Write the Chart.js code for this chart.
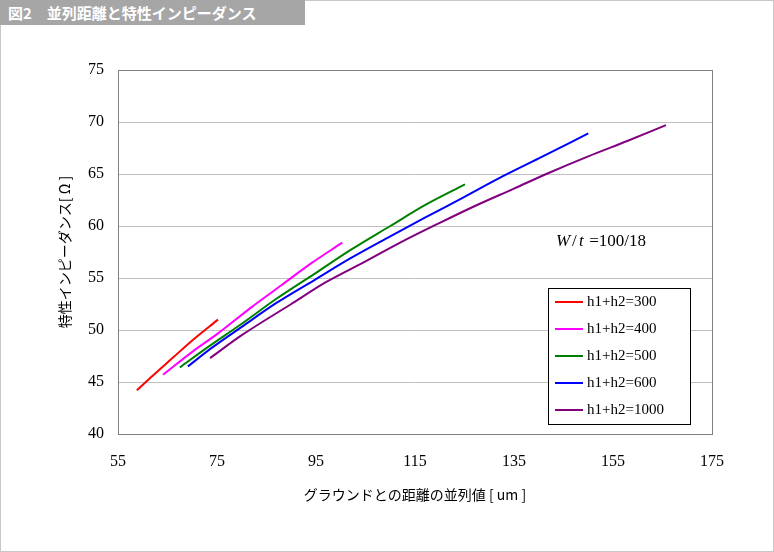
<!DOCTYPE html>
<html><head><meta charset="utf-8">
<script src="https://cdn.jsdelivr.net/npm/chart.js@4"></script>
<style>
body{margin:0;background:#fff;}
#frame{position:absolute;left:0;top:0;width:772px;height:550px;border:1px solid #c8c8c8;}
#title{position:absolute;left:0;top:0;width:305px;height:25px;background:#a6a6a6;color:#fff;font:bold 15px "Noto Sans CJK JP",sans-serif;line-height:25px;padding-left:8px;box-sizing:border-box;}
#wrap{position:absolute;left:0;top:0;width:774px;height:552px;}
</style></head><body>
<div id="frame"></div>
<div id="wrap"><canvas id="c"></canvas></div>
<div id="title">図2　並列距離と特性インピーダンス</div>
<script>
const xTicks = [55, 75, 95, 115, 135, 155, 175];
const seriesLabels = ["h1+h2=300", "h1+h2=400", "h1+h2=500", "h1+h2=600", "h1+h2=1000"];
const seriesColors = ["#ff0000", "#ff00ff", "#008000", "#0000ff", "#800080"];
const red = [[58.8, 44.2], [62, 45.6], [66, 47.3], [70, 49.0], [75.2, 51.0]];
const magenta = [[64.1, 45.7], [70, 47.9], [75, 49.6], [82, 52.2], [88, 54.3], [94, 56.4], [100.3, 58.4]];
const green = [[67.5, 46.4], [73, 48.3], [80, 50.6], [87, 53.0], [95, 55.5], [102, 57.7], [110, 60.0], [117, 62.0], [125.1, 64.0]];
const blue = [[69.1, 46.5], [74, 48.3], [80, 50.3], [87, 52.6], [95, 54.9], [102, 56.9], [110, 59.0], [117, 60.8], [125, 62.8], [132, 64.6], [140, 66.5], [150, 68.9]];
const purple = [[73.6, 47.3], [80, 49.5], [90, 52.5], [97, 54.6], [105, 56.6], [112, 58.4], [120, 60.3], [127, 61.9], [135, 63.6], [142, 65.1], [150, 66.7], [158, 68.2], [165.7, 69.7]];
const allSeries = [red, magenta, green, blue, purple];

const legendBox = {
  id: "legendBox",
  afterDraw(chart) {
    const ctx = chart.ctx;
    ctx.save();
    ctx.fillStyle = "#fff";
    ctx.fillRect(548, 288, 142, 136);
    ctx.strokeStyle = "#000";
    ctx.lineWidth = 1;
    ctx.strokeRect(548.5, 288.5, 142, 136);
    ctx.font = "15px 'Liberation Serif'";
    ctx.textBaseline = "middle";
    seriesLabels.forEach((label, i) => {
      const y = 302 + i * 27;
      ctx.strokeStyle = seriesColors[i];
      ctx.lineWidth = 2;
      ctx.beginPath(); ctx.moveTo(555, y); ctx.lineTo(583, y); ctx.stroke();
      ctx.fillStyle = "#000";
      ctx.fillText(label, 587, y);
    });
    ctx.font = "italic 17px 'Liberation Serif'";
    ctx.fillText("W", 556, 242);
    ctx.font = "17px 'Liberation Serif'";
    ctx.fillText("/", 572, 242);
    ctx.font = "italic 17px 'Liberation Serif'";
    ctx.fillText("t", 579, 242);
    ctx.font = "17px 'Liberation Serif'";
    ctx.fillText(" =100/18", 585, 242);
    // axis titles
    ctx.fillStyle = "#000";
    ctx.font = "14px 'Noto Sans CJK JP'";
    ctx.textAlign = "center";
    ctx.fillText("グラウンドとの距離の並列値 [ um ]", 415, 495);
    ctx.translate(65, 252);
    ctx.rotate(-Math.PI / 2);
    ctx.fillText("特性インピーダンス[ Ω ]", 0, 0);
    ctx.restore();
  }
};

new Chart(document.getElementById("c"), {
  type: "line",
  data: {
    datasets: allSeries.map((pts, i) => ({
      label: seriesLabels[i], data: pts.map(([x, y]) => ({ x, y })),
      borderColor: seriesColors[i], borderWidth: 2, pointRadius: 0, cubicInterpolationMode: "monotone", fill: false
    }))
  },
  options: {
    responsive: true, maintainAspectRatio: false, animation: false,
    layout: { padding: { top: 70, right: 62, left: 0, bottom: 0 } },
    plugins: { legend: { display: false }, tooltip: { enabled: false } },
    scales: {
      x: {
        type: "linear", min: 55, max: 175,
        afterBuildTicks: (axis) => { axis.ticks = xTicks.map((v) => ({ value: v })); },
        afterFit: (axis) => { axis.height = 118; },
        grid: { display: false },
        border: { color: "#808080" },
        ticks: { color: "#000", font: { family: "Liberation Serif", size: 16 }, padding: 10 }
      },
      y: {
        min: 40, max: 75,
        afterFit: (axis) => { axis.width = 118; },
        grid: { color: "#c0c0c0", drawTicks: false },
        border: { color: "#808080" },
        ticks: { stepSize: 5, color: "#000", font: { family: "Liberation Serif", size: 16 }, padding: 14 }
      }
    }
  },
  plugins: [legendBox, {
    id: "frameBox",
    afterDraw(chart) {
      const a = chart.chartArea, ctx = chart.ctx;
      ctx.save(); ctx.strokeStyle = "#808080"; ctx.lineWidth = 1;
      ctx.strokeRect(a.left + 0.5, a.top + 0.5, a.right - a.left, a.bottom - a.top);
      ctx.restore();
    }
  }]
});
</script>
</body></html>
